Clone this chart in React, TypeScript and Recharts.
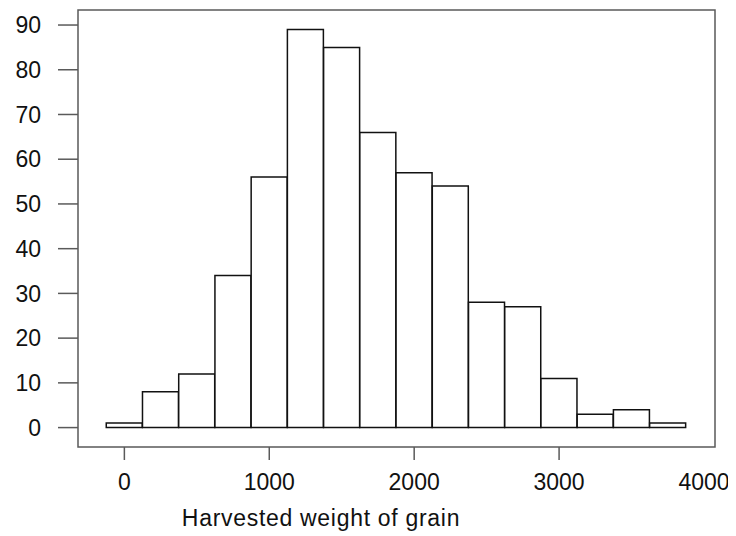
import { BarChart, Bar, XAxis, YAxis, ReferenceArea } from 'recharts'

const binCenters = [0, 250, 500, 750, 1000, 1250, 1500, 1750, 2000, 2250, 2500, 2750, 3000, 3250, 3500, 3750]
const counts = [1, 8, 12, 34, 56, 89, 85, 66, 57, 54, 28, 27, 11, 3, 4, 1]
const xTicks = [0, 1000, 2000, 3000, 4000]
const yTicks = [0, 10, 20, 30, 40, 50, 60, 70, 80, 90]
const xLabel = 'Harvested weight of grain'

const X_DOMAIN: [number, number] = [-320, 4076]
const Y_DOMAIN: [number, number] = [-4.34, 93.36]

const FONT = '"Liberation Sans", Arial, sans-serif'
const FRAME = '#5a5a5a'

const data = binCenters.map((x, i) => ({ x, count: counts[i] }))

function XTick(props: any) {
  const { x, y, payload } = props
  const v = payload.value
  return (
    <g>
      {v !== 4000 && <line x1={x} x2={x} y1={y - 29} y2={y - 16} stroke={FRAME} strokeWidth={1.5} />}
      <text x={x} y={y + 14} textAnchor="middle" fontFamily={FONT} fontSize={23} fill="#111">
        {v}
      </text>
    </g>
  )
}

function XTitle(props: any) {
  const { viewBox } = props
  return (
    <text x={viewBox.x + 243} y={viewBox.y + 79} textAnchor="middle" fontFamily={FONT} fontSize={23} letterSpacing={0.7} fill="#111">
      {xLabel}
    </text>
  )
}

export default function App() {
  return (
    <div style={{ width: 728, height: 528, background: '#fff' }}>
      <BarChart
        width={728}
        height={528}
        data={data}
        margin={{ top: 2, right: 21, bottom: 0, left: 8 }}
        barCategoryGap={0}
        barGap={0}
      >
        <XAxis
          dataKey="x"
          type="number"
          domain={X_DOMAIN}
          ticks={xTicks}
          allowDataOverflow
          axisLine={false}
          tickLine={false}
          tickSize={13}
          tickMargin={16}
          height={89}
          tick={<XTick />}
          label={<XTitle />}
        />
        <YAxis
          type="number"
          domain={Y_DOMAIN}
          ticks={yTicks}
          allowDataOverflow
          width={62}
          axisLine={false}
          tickLine={{ stroke: FRAME, strokeWidth: 1.5 }}
          tickSize={20}
          tickMargin={17}
          tick={{ fontFamily: FONT, fontSize: 23, fill: '#111' }}
        />
        <Bar dataKey="count" fill="#fff" stroke="#111" strokeWidth={1.5} isAnimationActive={false} />
        <ReferenceArea
          x1={X_DOMAIN[0]}
          x2={X_DOMAIN[1]}
          y1={Y_DOMAIN[0]}
          y2={Y_DOMAIN[1]}
          fill="none"
          stroke={FRAME}
          strokeWidth={1.5}
          ifOverflow="visible"
        />
      </BarChart>
    </div>
  )
}
